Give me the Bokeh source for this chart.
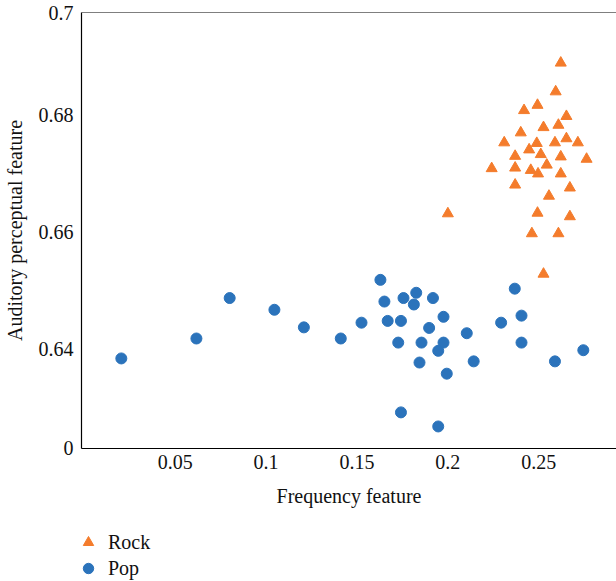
from bokeh.plotting import figure
from bokeh.models import Range1d, FixedTicker, Legend, LegendItem, Span
from bokeh.layouts import column
from bokeh.embed import file_html
from bokeh.resources import INLINE

# Rock: frequency feature vs auditory perceptual feature
rock_x = [0.2621, 0.2593, 0.2419, 0.2493, 0.2652, 0.2526, 0.2608, 0.2401, 0.2310, 0.2489,
          0.2589, 0.2652, 0.2715, 0.2447, 0.2370, 0.2511, 0.2621, 0.2763, 0.2241, 0.2370,
          0.2456, 0.2544, 0.2496, 0.2621, 0.2370, 0.2671, 0.2556, 0.2000, 0.2493, 0.2671,
          0.2462, 0.2608, 0.2526]
rock_y = [0.6888, 0.6839, 0.6807, 0.6816, 0.6797, 0.6778, 0.6782, 0.6769, 0.6752, 0.6751,
          0.6752, 0.6759, 0.6752, 0.6740, 0.6729, 0.6732, 0.6728, 0.6724, 0.6708, 0.6709,
          0.6705, 0.6714, 0.6699, 0.6699, 0.6680, 0.6675, 0.6661, 0.6631, 0.6632, 0.6626,
          0.6597, 0.6597, 0.6528]

# Pop
pop_x = [0.0204, 0.0617, 0.0800, 0.1046, 0.1208, 0.1411, 0.1525, 0.1629, 0.1651, 0.1756,
         0.1826, 0.1813, 0.1918, 0.1669, 0.1742, 0.1976, 0.1897, 0.1727, 0.1855, 0.1976,
         0.1947, 0.1844, 0.1994, 0.2104, 0.2142, 0.1742, 0.1947, 0.2368, 0.2405, 0.2293,
         0.2405, 0.2589, 0.2745]
pop_y = [0.6384, 0.6418, 0.6487, 0.6467, 0.6437, 0.6418, 0.6445, 0.6518, 0.6481, 0.6487,
         0.6496, 0.6476, 0.6487, 0.6448, 0.6448, 0.6455, 0.6436, 0.6411, 0.6411, 0.6411,
         0.6397, 0.6377, 0.6358, 0.6427, 0.6379, 0.6292, 0.6268, 0.6503, 0.6457, 0.6445,
         0.6411, 0.6379, 0.6398]

x_ticks = [0.05, 0.1, 0.15, 0.2, 0.25]
x_tick_labels = ["0.05", "0.1", "0.15", "0.2", "0.25"]
# broken axis: bottom of the frame is labelled 0, top labelled 0.7
y_ticks = [0.62305, 0.64, 0.66, 0.68, 0.69739]
y_tick_labels = ["0", "0.64", "0.66", "0.68", "0.7"]

FONT = "Liberation Serif"
ORANGE = "#f47c2c"
BLUE = "#2b73bb"
Y0, Y1 = 0.62304, 0.6974

p = figure(width=616, height=514, output_backend="svg", toolbar_location=None,
           x_range=Range1d(-0.0015, 0.29275), y_range=Range1d(Y0, Y1),
           min_border_left=79, min_border_right=0, min_border_top=12, min_border_bottom=66)
p.outline_line_color = None
p.grid.visible = False

r_rock = p.scatter(rock_x, rock_y, marker="triangle", size=11, color=ORANGE, line_color=ORANGE)
r_pop = p.scatter(pop_x, pop_y, marker="circle", size=11, color=BLUE, line_color=BLUE)

xa = p.xaxis[0]
xa.ticker = FixedTicker(ticks=x_ticks)
xa.major_label_overrides = dict(zip(x_ticks, x_tick_labels))
xa.axis_label = "Frequency feature"
ya = p.yaxis[0]
ya.ticker = FixedTicker(ticks=y_ticks)
ya.major_label_overrides = dict(zip(y_ticks, y_tick_labels))
ya.axis_label = "Auditory perceptual feature"

for ax in (xa, ya):
    ax.axis_line_color = "black"
    ax.axis_line_width = 1.2
    ax.major_tick_line_color = None
    ax.minor_tick_line_color = None
    ax.major_tick_out = 0
    ax.minor_tick_out = 0
    ax.major_label_text_font = FONT
    ax.major_label_text_font_size = "20px"
    ax.major_label_text_color = "#111111"
    ax.axis_label_text_font = FONT
    ax.axis_label_text_font_size = "20px"
    ax.axis_label_text_font_style = "normal"
    ax.axis_label_text_color = "#111111"
xa.major_label_standoff = 6
xa.axis_label_standoff = 13
ya.major_label_standoff = 8
ya.axis_label_standoff = 10

p.add_layout(Span(location=Y1, dimension="width", line_color="black", line_width=1.2))

# legend panel below the chart
lg = figure(width=616, height=67, output_backend="svg", toolbar_location=None,
            x_range=Range1d(10, 11), y_range=Range1d(10, 11),
            x_axis_location=None, y_axis_location=None,
            min_border_left=79, min_border_right=0, min_border_top=0, min_border_bottom=0)
lg.outline_line_color = None
lg.grid.visible = False
lr_rock = lg.scatter(rock_x, rock_y, marker="triangle", size=11, color=ORANGE, line_color=ORANGE)
lr_pop = lg.scatter(pop_x, pop_y, marker="circle", size=11, color=BLUE, line_color=BLUE)
legend = Legend(items=[LegendItem(label="Rock", renderers=[lr_rock]),
                       LegendItem(label="Pop", renderers=[lr_pop])],
                location=(-6, 0), orientation="vertical",
                margin=0, padding=0, spacing=0,
                glyph_width=26, glyph_height=26, label_height=26, label_standoff=7,
                label_text_font=FONT, label_text_font_size="20px", label_text_color="#111111",
                border_line_color=None, background_fill_alpha=0)
lg.add_layout(legend)

layout = column(p, lg, spacing=0)
open("out.html", "w").write(file_html(layout, INLINE))
